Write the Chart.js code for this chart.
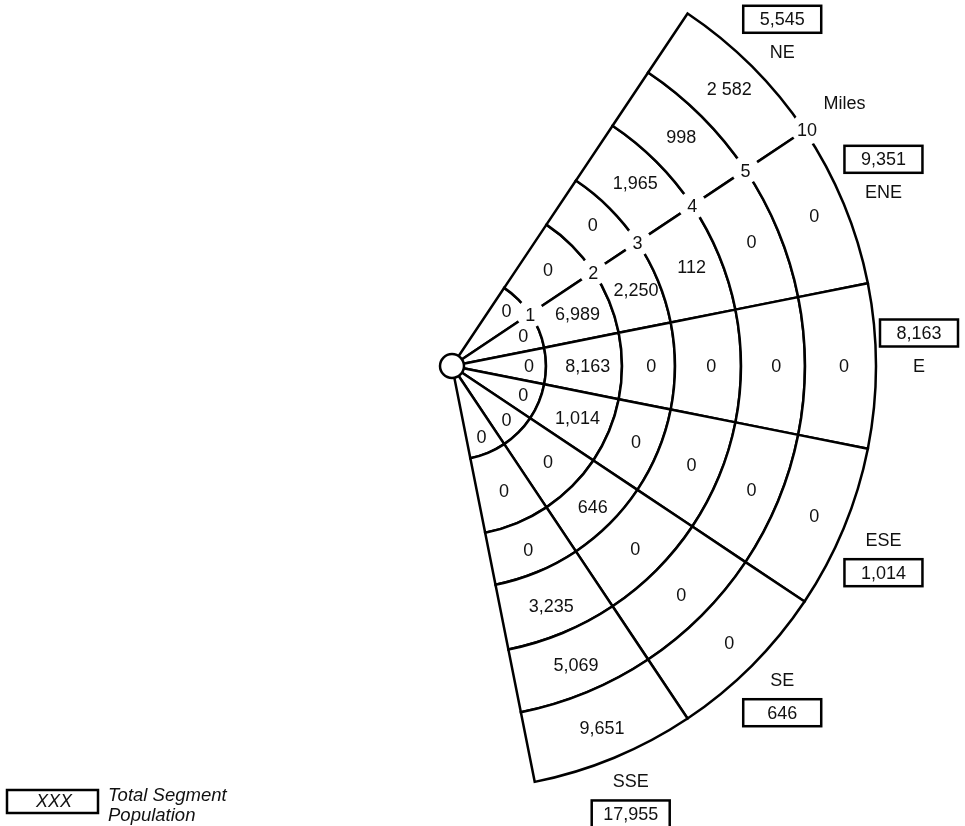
<!DOCTYPE html>
<html>
<head>
<meta charset="utf-8">
<script src="https://cdn.jsdelivr.net/npm/chart.js@4.4.0/dist/chart.umd.min.js"></script>
<style>
  html, body { margin: 0; padding: 0; background: #fff; }
  #wrap { width: 965px; height: 826px; }
</style>
</head>
<body>
<div id="wrap"><canvas id="c" width="965" height="826"></canvas></div>
<script>
// ---------------- DATA ----------------
const sectors = ['NE', 'ENE', 'E', 'ESE', 'SE', 'SSE'];
const ringMiles = ['1', '2', '3', '4', '5', '10'];
// population per sector (NE..SSE) for each distance ring
const pop0to1  = [0, 0, 0, 0, 0, 0];
const pop1to2  = [0, 6989, 8163, 1014, 0, 0];
const pop2to3  = [0, 2250, 0, 0, 646, 0];
const pop3to4  = [1965, 112, 0, 0, 0, 3235];
const pop4to5  = [998, 0, 0, 0, 0, 5069];
const pop5to10 = [2582, 0, 0, 0, 0, 9651];
const totals   = [5545, 9351, 8163, 1014, 646, 17955];
const spaceGrouped = [2582];          // value printed with a space separator
const distanceUnit = 'Miles';
const legendSample = 'XXX';
const legendText = ['Total Segment', 'Population'];

// ---------------- LAYOUT ----------------
const W = 965, H = 826;
const APEX_X = 452, APEX_Y = 366;
const ringEdges = [94, 170, 223, 289, 353, 424];   // outer radius (px) of each ring
const firstBearing = 45, sectorWidth = 22.5;
const ROT = firstBearing - sectorWidth / 2;
const CIRC = sectorWidth * sectors.length;
const RADIUS = ringEdges[ringEdges.length - 1];
const FONT = '"Liberation Sans", Arial, Helvetica, sans-serif';

// mirror Chart.js doughnut centring so the apex lands where wanted
function ratioOffset(rotDeg, circDeg) {
  const s = (rotDeg - 90) * Math.PI / 180, e = s + circDeg * Math.PI / 180;
  const inRange = a => { let x = a; while (x < s) x += 2 * Math.PI; return x <= e; };
  const sx = Math.cos(s), sy = Math.sin(s), ex = Math.cos(e), ey = Math.sin(e);
  const maxX = inRange(0) ? 1 : Math.max(sx, ex, 0);
  const maxY = inRange(Math.PI / 2) ? 1 : Math.max(sy, ey, 0);
  const minX = inRange(Math.PI) ? -1 : Math.min(sx, ex, 0);
  const minY = inRange(-Math.PI / 2) ? -1 : Math.min(sy, ey, 0);
  return { ox: -(maxX + minX) / 2, oy: -(maxY + minY) / 2 };
}
const ro = ratioOffset(ROT, CIRC);
const areaCX = APEX_X - ro.ox * RADIUS, areaCY = APEX_Y - ro.oy * RADIUS;
const pad = {
  left: Math.max(0, 2 * areaCX - W), right: Math.max(0, W - 2 * areaCX),
  top: Math.max(0, 2 * areaCY - H), bottom: Math.max(0, H - 2 * areaCY)
};

function fmt(v) {
  const s = v.toLocaleString('en-US');
  return spaceGrouped.includes(v) ? s.replace(/,/g, ' ') : s;
}

const rings = [pop0to1, pop1to2, pop2to3, pop3to4, pop4to5, pop5to10];
const datasets = rings.map((vals, k) => ({
  label: (k ? ringMiles[k - 1] : '0') + '-' + ringMiles[k],
  data: sectors.map(() => 1),            // equal 22.5° direction sectors
  popValues: vals,
  ringIndex: k,
  weight: ringEdges[k] - (k ? ringEdges[k - 1] : 0)
})).reverse();                            // Chart.js draws dataset 0 outermost

const fanPlugin = {
  id: 'fanLabels',
  afterDatasetsDraw(chart) {
    const ctx = chart.ctx;
    ctx.save();
    ctx.textAlign = 'center';
    ctx.textBaseline = 'middle';
    ctx.font = '18px ' + FONT;
    ctx.fillStyle = '#111';

    let outerMeta = null, boundaryAngle = 0;
    const ringOuter = [];
    // segment values
    chart.data.datasets.forEach((ds, di) => {
      const meta = chart.getDatasetMeta(di);
      if (di === 0) outerMeta = meta;
      meta.data.forEach((arc, i) => {
        const p = arc.getProps(['x', 'y', 'startAngle', 'endAngle', 'innerRadius', 'outerRadius'], true);
        if (i === 0) { boundaryAngle = p.endAngle; ringOuter[ds.ringIndex] = p; }
        const mid = (p.startAngle + p.endAngle) / 2;
        const f = p.innerRadius < 1 ? 0.82 : 0.55;
        const r = p.innerRadius + (p.outerRadius - p.innerRadius) * f;
        ctx.fillText(fmt(ds.popValues[i]), p.x + r * Math.cos(mid), p.y + r * Math.sin(mid) + 1);
      });
    });

    // distance labels on the NE / ENE boundary
    const bc = Math.cos(boundaryAngle), bs = Math.sin(boundaryAngle);
    ringMiles.forEach((lab, k) => {
      const p = ringOuter[k];
      const r = p.outerRadius + (k === ringMiles.length - 1 ? 3 : 0);
      const x = p.x + r * bc, y = p.y + r * bs;
      const w = ctx.measureText(lab).width;
      ctx.fillStyle = '#fff';
      ctx.beginPath();
      ctx.arc(x, y, Math.max(14, w / 2 + 6), 0, Math.PI * 2);
      ctx.fill();
      ctx.fillStyle = '#111';
      ctx.fillText(lab, x, y + 2);
    });
    {
      const p = ringOuter[ringMiles.length - 1];
      const r = p.outerRadius + 48;
      ctx.fillText(distanceUnit, p.x + r * bc, p.y + r * bs);
    }

    // apex circle
    const p0 = ringOuter[0];
    ctx.beginPath();
    ctx.arc(p0.x, p0.y, 12, 0, Math.PI * 2);
    ctx.fillStyle = '#fff';
    ctx.fill();
    ctx.lineWidth = 2.5;
    ctx.strokeStyle = '#000';
    ctx.stroke();

    // sector names with total boxes
    outerMeta.data.forEach((arc, i) => {
      const p = arc.getProps(['x', 'y', 'startAngle', 'endAngle', 'outerRadius'], true);
      const mid = (p.startAngle + p.endAngle) / 2;
      const c = Math.cos(mid), s = Math.sin(mid);
      const gx = p.x + (p.outerRadius + 43) * c;
      let gy = p.y + (p.outerRadius + 43) * s;
      const above = s < 0.1;
      const shift = 16.5 * Math.min(1, Math.max(0, (Math.abs(c) - 0.75) / 0.25));
      gy += above ? -shift : shift;
      const boxY = above ? gy - 16.5 : gy + 16.5;
      const nameY = above ? gy + 16.5 : gy - 16.5;
      ctx.fillStyle = '#fff';
      ctx.fillRect(gx - 39, boxY - 13.5, 78, 27);
      ctx.lineWidth = 2.5;
      ctx.strokeStyle = '#000';
      ctx.strokeRect(gx - 39, boxY - 13.5, 78, 27);
      ctx.fillStyle = '#111';
      ctx.fillText(fmt(totals[i]), gx, boxY + 1);
      ctx.fillText(sectors[i], gx, nameY + 1);
    });

    // legend (bottom-left)
    ctx.lineWidth = 2.5;
    ctx.strokeStyle = '#000';
    ctx.strokeRect(7, 790, 91, 23);
    ctx.font = 'italic 18px ' + FONT;
    ctx.fillText(legendSample, 54, 802);
    ctx.textAlign = 'left';
    ctx.textBaseline = 'alphabetic';
    ctx.font = 'italic 18.5px ' + FONT;
    ctx.fillText(legendText[0], 108, 801);
    ctx.fillText(legendText[1], 108, 821);
    ctx.restore();
  }
};

new Chart(document.getElementById('c'), {
  type: 'doughnut',
  data: { labels: sectors, datasets },
  options: {
    responsive: false,
    animation: false,
    events: [],
    rotation: ROT,
    circumference: CIRC,
    cutout: 0,
    radius: RADIUS,
    layout: { padding: pad },
    elements: {
      arc: {
        backgroundColor: '#fff',
        borderColor: '#000',
        borderWidth: 2.5,
        borderAlign: 'center',
        borderJoinStyle: 'miter'
      }
    },
    plugins: { legend: { display: false }, tooltip: { enabled: false }, title: { display: false } }
  },
  plugins: [fanPlugin]
});
</script>
</body>
</html>
